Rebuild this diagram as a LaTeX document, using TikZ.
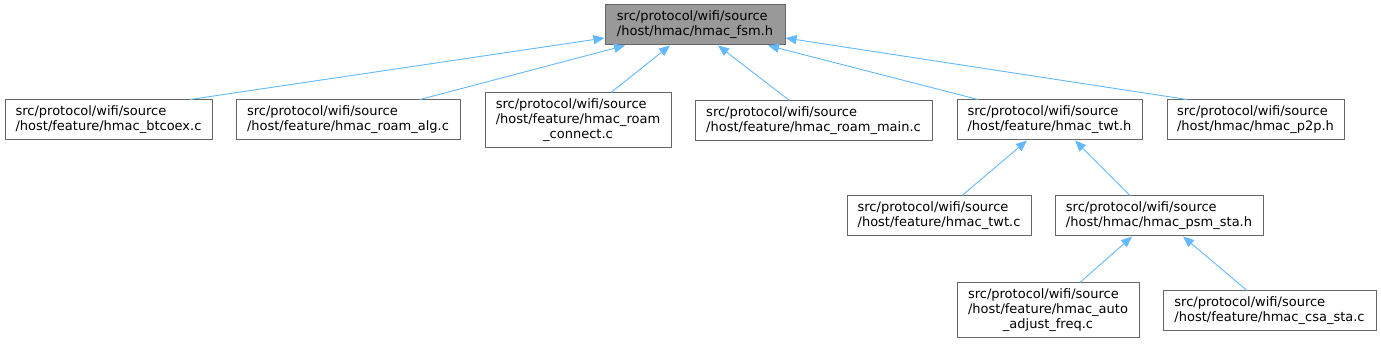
\documentclass[tikz,border=0pt]{standalone}
\usepackage{fontspec}
\setmainfont{DejaVu Sans}
\usepackage{xcolor}
\usepackage{tikz}
\usetikzlibrary{arrows.meta}

\definecolor{edgeblue}{HTML}{63B8FF}
\definecolor{boxgray}{HTML}{666666}
\definecolor{rootfill}{HTML}{999999}

\begin{document}
\begin{tikzpicture}[
      x=1pt, y=-1pt,
      file/.style={draw=boxgray, line width=1pt, fill=white, align=left,
          minimum height=40pt, inner sep=0pt, font=\fontsize{13}{15}\selectfont},
      root/.style={file, fill=rootfill},
      edge/.style={-{Triangle[length=11pt, width=9pt]}, line width=0.9pt, draw=edgeblue}
    ]
    \useasboundingbox (0,0) rectangle (1381,344);
    \node[root, minimum width=180pt] (fsm) at (695,25) {src/protocol/wifi/source\\/host/hmac/hmac\_fsm.h};
    \node[file, minimum width=207pt] (btcoex) at (108.5,120) {src/protocol/wifi/source\\/host/feature/hmac\_btcoex.c};
    \node[file, minimum width=224pt] (roamalg) at (348,120) {src/protocol/wifi/source\\/host/feature/hmac\_roam\_alg.c};
    \node[file, minimum width=186pt, minimum height=55pt] (roamconnect) at (578,120.5) {src/protocol/wifi/source\\/host/feature/hmac\_roam\\\hfill\_connect.c\hfill\mbox{}};
    \node[file, minimum width=237pt] (roammain) at (813.5,121) {src/protocol/wifi/source\\/host/feature/hmac\_roam\_main.c};
    \node[file, minimum width=185pt] (twth) at (1049.5,120) {src/protocol/wifi/source\\/host/feature/hmac\_twt.h};
    \node[file, minimum width=177pt] (ptwop) at (1255.5,120) {src/protocol/wifi/source\\/host/hmac/hmac\_p2p.h};
    \node[file, minimum width=184pt] (twtc) at (939,216) {src/protocol/wifi/source\\/host/feature/hmac\_twt.c};
    \node[file, minimum width=208pt] (psmsta) at (1159,216) {src/protocol/wifi/source\\/host/hmac/hmac\_psm\_sta.h};
    \node[file, minimum width=182pt, minimum height=55pt] (autoadjust) at (1048,310.5) {src/protocol/wifi/source\\/host/feature/hmac\_auto\\\hfill\_adjust\_freq.c\hfill\mbox{}};
    \node[file, minimum width=213pt] (csasta) at (1269.5,311) {src/protocol/wifi/source\\/host/feature/hmac\_csa\_sta.c};
    \draw[edge] ([xshift=81.5pt]btcoex.north) -- ([yshift=-13pt]fsm.west);
    \draw[edge] ([xshift=72pt]roamalg.north) -- ([xshift=-70pt]fsm.south);
    \draw[edge] ([xshift=33pt]roamconnect.north) -- ([xshift=-25pt]fsm.south);
    \draw[edge] ([xshift=-24pt]roammain.north) -- ([xshift=23pt]fsm.south);
    \draw[edge] ([xshift=-71.5pt]twth.north) -- ([xshift=73pt]fsm.south);
    \draw[edge] ([xshift=-68.5pt]ptwop.north) -- ([yshift=-13pt]fsm.east);
    \draw[edge] ([xshift=23pt]twtc.north) -- ([xshift=-22.5pt]twth.south);
    \draw[edge] ([xshift=-29pt]psmsta.north) -- ([xshift=25.5pt]twth.south);
    \draw[edge] ([xshift=32pt]autoadjust.north) -- ([xshift=-27pt]psmsta.south);
    \draw[edge] ([xshift=-22.5pt]csasta.north) -- ([xshift=24pt]psmsta.south);
  \end{tikzpicture}
\end{document}
